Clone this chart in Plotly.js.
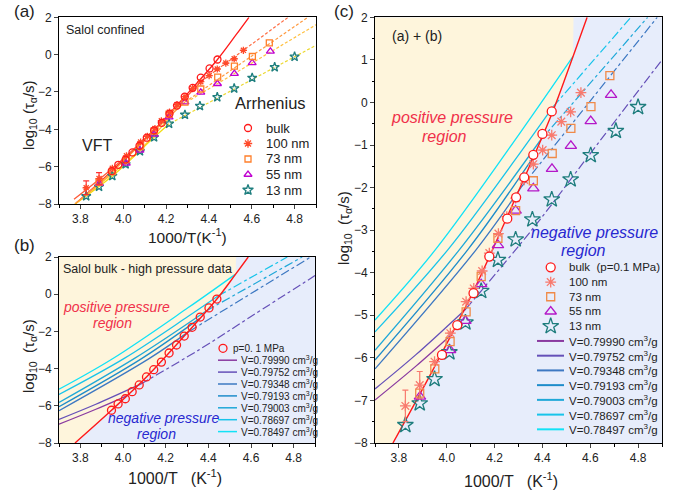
<!DOCTYPE html>
<html><head><meta charset="utf-8">
<script src="https://cdn.plot.ly/plotly-3.0.1.min.js"></script>
<style>html,body{margin:0;padding:0;background:#fff}#plot{width:677px;height:493px}</style>
</head><body><div id="plot"></div>
<script>
// ---------------- data ----------------
const bulkX = [3.946,3.977,4.011,4.043,4.076,4.110,4.144,4.180,4.216,4.251,4.287,4.324,4.362,4.403,4.440];
const bulkY = [-6.24,-5.90,-5.62,-5.24,-4.88,-4.45,-4.06,-3.65,-3.16,-2.73,-2.25,-1.78,-1.23,-0.74,-0.26];
const bulkCX = [3.980,4.044,4.112,4.178,4.253,4.290,4.324,4.362,4.400,4.439];
const bulkCY = [-5.93,-5.23,-4.48,-3.62,-2.73,-2.23,-1.76,-1.23,-0.74,-0.21];
const vftBulkX = [3.775,3.946,4.110,4.287,4.440,4.528,4.587];
const vftBulkY = [-8.0,-6.24,-4.45,-2.25,-0.26,1.08,2.0];

const nm100X = [3.827,3.887,3.949,4.015,4.081,4.113,4.148,4.178,4.216,4.251,4.288,4.324,4.362,4.401,4.439,4.479,4.518,4.561];
const nm100Y = [-7.13,-6.64,-6.09,-5.42,-4.68,-4.37,-3.96,-3.54,-3.08,-2.68,-2.25,-1.82,-1.45,-1.12,-0.77,-0.45,-0.22,0.23];
const nm100Err = [0.37,0.32,0,0,0,0,0,0,0,0,0,0,0,0,0,0,0,0];
const nm73X = [3.887,3.950,4.014,4.081,4.144,4.214,4.288,4.362,4.441,4.519,4.603,4.682];
const nm73Y = [-6.83,-6.26,-5.62,-4.92,-4.09,-3.19,-2.54,-1.84,-1.20,-0.61,-0.10,0.63];
const nm55X = [3.888,4.014,4.078,4.144,4.214,4.288,4.362,4.440,4.519,4.602,4.687];
const nm55Y = [-6.91,-5.82,-5.13,-4.27,-3.35,-2.54,-2.02,-1.56,-1.02,-0.44,0.18];
const nm13X = [3.827,3.887,3.949,4.011,4.078,4.144,4.214,4.288,4.358,4.439,4.518,4.602,4.707,4.800];
const nm13Y = [-7.58,-7.07,-6.50,-5.87,-5.17,-4.43,-3.70,-3.22,-2.75,-2.28,-1.81,-1.24,-0.67,-0.11];

// VFT (solid) and Arrhenius (dashed) fits, panel (a)
const vft100X = [3.770,3.950,4.150,4.362]; const vft100Y = [-7.75,-6.09,-3.96,-1.45];
const arr100X = [4.362,4.770]; const arr100Y = [-1.45,2.0];
const vft73X = [3.780,3.950,4.144,4.288]; const vft73Y = [-7.95,-6.26,-4.09,-2.54];
const arr73X = [4.288,4.862]; const arr73Y = [-2.54,2.0];
const vft55X = [3.775,3.888,4.078,4.214]; const vft55Y = [-8.0,-6.95,-5.10,-3.40];
const arr55X = [4.214,4.900]; const arr55Y = [-3.10,1.60];
const vft13X = [3.775,3.949,4.144,4.214]; const vft13Y = [-8.0,-6.50,-4.43,-3.70];
const arr13X = [4.200,4.900]; const arr13Y = [-3.80,0.50];

// isochores (solid: positive pressure, dash-dot: negative pressure)
const isoNames = ['V=0.79990 cm<sup>3</sup>/g','V=0.79752 cm<sup>3</sup>/g','V=0.79348 cm<sup>3</sup>/g','V=0.79193 cm<sup>3</sup>/g','V=0.79003 cm<sup>3</sup>/g','V=0.78697 cm<sup>3</sup>/g','V=0.78497 cm<sup>3</sup>/g'];
const isoSolidX = [[3.70,3.87,4.02],[3.70,3.87,4.08],[3.70,4.124,4.31],[3.70,4.089,4.36],[3.70,4.054,4.39],[3.70,4.006,4.306,4.445],[3.70,3.951,4.306,4.528]];
const isoSolidY = [[-6.99,-6.20,-5.45],[-6.73,-5.93,-4.85],[-6.26,-3.45,-2.00],[-6.05,-3.45,-1.30],[-5.82,-3.45,-0.90],[-5.39,-3.45,-1.19,-0.10],[-5.11,-3.47,-0.72,1.08]];
const isoDashX = [[],[4.08,4.362,4.60,4.90],[4.31,4.88],[],[4.39,4.84],[4.445,4.77],[]];
const isoDashY = [[],[-4.85,-2.95,-1.20,1.00],[-2.00,2.00],[],[-0.90,2.00],[-0.10,2.00],[]];

const xTicks = [3.8,4.0,4.2,4.4,4.6,4.8];
const xTickText = ['3.8','4.0','4.2','4.4','4.6','4.8'];

// ---------------- styles ----------------
const W=677,H=493;
const fx=v=>v/W, fy=v=>1-v/H;
const isoColors = ['#8a3aa0','#6550b8','#3d78c2','#1e8cca','#1fa8d8','#18c4ea','#12e2f6'];
const RED='#ff1a1a';
const FONT='Liberation Sans, Arial, sans-serif';
const traces=[];

function line(x,y,xa,ya,color,dash,width,shape){
  traces.push({x:x,y:y,xaxis:xa,yaxis:ya,mode:'lines',showlegend:false,hoverinfo:'skip',
    line:{color:color,width:width||1.3,dash:dash||'solid',shape:shape||'spline'}});
}
function pts(x,y,xa,ya,sym,color,size,err,errColor,fill){
  const t={x:x,y:y,xaxis:xa,yaxis:ya,mode:'markers',showlegend:false,hoverinfo:'skip',
    marker:{symbol:sym,color:fill||color,size:size,line:{color:color,width:1.3}}};
  if(err) t.error_y={type:'data',array:err,visible:true,color:errColor||color,thickness:1.2,width:3};
  traces.push(t);
}

// ---- backgrounds (yellow region bounded by p=0.1 MPa VFT) ----
['x2','x3'].forEach((xa,i)=>{
  const ya = i===0?'y2':'y3';
  const px=[3.7].concat(vftBulkX.slice(0,6)).concat([4.53,3.7]);
  const py=[-8].concat(vftBulkY.slice(0,6)).concat([2,2]);
  traces.push({x:px,y:py,xaxis:xa,yaxis:ya,mode:'lines',fill:'toself',fillcolor:'#fef5dc',
    line:{width:0,color:'rgba(0,0,0,0)'},showlegend:false,hoverinfo:'skip'});
});

// ---- panel (a) ----
const SD='3px,2px';
line(vftBulkX,vftBulkY,'x','y',RED,'solid',1.3);
line(vft13X,vft13Y,'x','y','#f2dc10','solid',1.3);
line(vft55X,vft55Y,'x','y','#ffc030','solid',1.3);
line(vft73X,vft73Y,'x','y','#ff9a40','solid',1.3);
line(vft100X,vft100Y,'x','y','#ff5a38','solid',1.3);
line(arr100X,arr100Y,'x','y','#ff6a40',SD,1.2,'linear');
line(arr73X,arr73Y,'x','y','#ff9a40',SD,1.2,'linear');
line(arr55X,arr55Y,'x','y','#ffc040',SD,1.2,'linear');
line(arr13X,arr13Y,'x','y','#ecd830',SD,1.2,'linear');
pts(nm13X,nm13Y,'x','y','star-open','#1f7f7f',7);
pts(nm55X,nm55Y,'x','y','triangle-up-open','#c000d0',7);
pts(nm73X,nm73Y,'x','y','square-open','#ff7f2a',6);
pts(nm100X,nm100Y,'x','y','asterisk-open','#ff4a2a',6,nm100Err,'#ff3030');
pts(bulkX,bulkY,'x','y','circle-open',RED,7);

// ---- panel (b) and (c) isochores ----
[['x2','y2'],['x3','y3']].forEach(ax=>{
  for(let i=0;i<7;i++){
    line(isoSolidX[i],isoSolidY[i],ax[0],ax[1],isoColors[i],'solid',1.3);
    if(isoDashX[i].length) line(isoDashX[i],isoDashY[i],ax[0],ax[1],isoColors[i],'dashdot',1.2);
  }
  line(vftBulkX,vftBulkY,ax[0],ax[1],RED,'solid',1.4);
});
pts(bulkX,bulkY,'x2','y2','circle-open',RED,8);

// ---- panel (c) data ----
pts(nm13X,nm13Y,'x3','y3','star-open','#1e7d7d',12);
pts(nm55X,nm55Y,'x3','y3','triangle-up-open','#b418c8',10);
pts(nm73X,nm73Y,'x3','y3','square-open','#f08a48',8);
pts(nm100X,nm100Y,'x3','y3','asterisk-open','#f87a6e',9,nm100Err,'#f87a6e');
pts(bulkCX,bulkCY,'x3','y3','circle',RED,9,null,null,'#ffffff');

// ---- manual legends (pixel overlay) ----
const shapes=[], ann=[];
function legMarker(x,y,sym,color,size,fill){
  traces.push({x:[x],y:[y],xaxis:'x4',yaxis:'y4',mode:'markers',showlegend:false,hoverinfo:'skip',
    marker:{symbol:sym,color:fill||color,size:size,line:{color:color,width:1.3}}});
}
function legLine(x0,x1,y,color,w){
  shapes.push({type:'line',xref:'paper',yref:'paper',x0:fx(x0),x1:fx(x1),y0:fy(y),y1:fy(y),line:{color:color,width:w||1.8}});
}
function txt(t,x,y,size,color,opts){
  ann.push(Object.assign({text:t,x:fx(x),y:fy(y),xref:'paper',yref:'paper',showarrow:false,
    xanchor:'center',yanchor:'middle',font:{family:FONT,size:size,color:color||'#222'}},opts||{}));
}
// legend (a)
const legA=[['bulk','circle-open',RED,7],['100 nm','asterisk-open','#ff4a2a',7],['73 nm','square-open','#ff7f2a',6],['55 nm','triangle-up-open','#c000d0',7],['13 nm','star-open','#1f7f7f',8]];
legA.forEach((r,i)=>{const y=128+15.5*i; legMarker(248,y,r[1],r[2],r[3]); txt(r[0],264,y,13,'#222',{xanchor:'left'});});
// legend (b)
legMarker(223,348.3,'circle-open',RED,8); txt('p=0. 1 MPa',231,348.3,10,'#222',{xanchor:'left'});
for(let i=0;i<7;i++){const y=360.2+11.9*i; legLine(218,237,y,isoColors[i],1.5); txt(isoNames[i],239,y,10,'#222',{xanchor:'left'});}
// legend (c)
const legC=[['bulk  (p=0.1 MPa)','circle',RED,9,'#ffffff'],['100 nm','asterisk-open','#f87a6e',9],['73 nm','square-open','#f08a48',8],['55 nm','triangle-up-open','#b418c8',10],['13 nm','star-open','#1e7d7d',12]];
legC.forEach((r,i)=>{const y=267.3+14.73*i; legMarker(550.7,y,r[1],r[2],r[3],r[4]); txt(r[0],566.7,y,11.5,'#222',{xanchor:'left'});});
for(let i=0;i<7;i++){const y=267.3+14.73*(5+i); legLine(537,564,y,isoColors[i],2); txt(isoNames[i],566.7,y,11.5,'#222',{xanchor:'left'});}

// blue backgrounds for (b) and (c)
shapes.push({type:'rect',xref:'x2 domain',yref:'y2 domain',x0:0,x1:1,y0:0,y1:1,fillcolor:'#e7edfb',line:{width:0},layer:'below'});
shapes.push({type:'rect',xref:'x3 domain',yref:'y3 domain',x0:0,x1:1,y0:0,y1:1,fillcolor:'#e7edfb',line:{width:0},layer:'below'});

// texts
txt('(a)',24,12,17); txt('(b)',24,245,17); txt('(c)',344,12,17);
txt('Salol confined',105,30,12.5);
txt('VFT',97,145,16); txt('Arrhenius',270,103,16.5);
txt('Salol bulk - high pressure data',147,269,12.5);
txt('<i>positive pressure</i>',117,307,14,'#f0304a'); txt('<i>region</i>',112,323,14,'#f0304a');
txt('<i>negative pressure</i>',164,418,14,'#2828d0'); txt('<i>region</i>',156,434,14,'#2828d0');
txt('(a) + (b)',417,36,14);
txt('<i>positive pressure</i>',452,118,16,'#f0304a'); txt('<i>region</i>',444,137,16,'#f0304a');
txt('<i>negative pressure</i>',594,232,16,'#2828d0'); txt('<i>region</i>',583,250,16,'#2828d0');
// axis titles
txt('1000/T(K<sup>-1</sup>)',187,236,15.5);
txt('1000/T   (K<sup>-1</sup>)',175,477,16);
txt('1000/T   (K<sup>-1</sup>)',511,480,16);
txt('log<sub>10</sub> (τ<sub>α</sub>/s)',30,115,15,'#222',{textangle:-90});
txt('log<sub>10</sub>  (τ<sub>α</sub>/s)',29,356,15,'#222',{textangle:-90});
txt('log<sub>10</sub>  (τ<sub>α</sub>/s)',344,228,15,'#222',{textangle:-90});

function xax(d,anchor){return {domain:d,range:[3.7,4.9],tickmode:'array',tickvals:xTicks,ticktext:xTickText,ticks:'outside',ticklen:4,tickwidth:1,
  showline:true,linecolor:'#000',linewidth:1,mirror:true,showgrid:false,zeroline:false,anchor:anchor,
  tickfont:{family:FONT,size:12,color:'#222'},minor:{dtick:0.1,tick0:3.7,ticks:'outside',ticklen:2.5,tickcolor:'#000'}};}
function yax(d,anchor,dt){const o={domain:d,range:[-8,2],dtick:dt,tick0:-8,ticks:'outside',ticklen:4,tickwidth:1,
  showline:true,linecolor:'#000',linewidth:1,mirror:true,showgrid:false,zeroline:false,anchor:anchor,
  tickfont:{family:FONT,size:12,color:'#222'}};
  if(dt===1) o.minor={dtick:0.5,ticks:'outside',ticklen:2.5,tickcolor:'#000'};
  return o;}

const layout={width:W,height:H,margin:{l:0,r:0,t:0,b:0},paper_bgcolor:'#fff',plot_bgcolor:'rgba(0,0,0,0)',showlegend:false,
  xaxis:xax([fx(59),fx(316)],'y'), yaxis:yax([fy(204),fy(17.3)],'x',2),
  xaxis2:xax([fx(59),fx(315)],'y2'), yaxis2:yax([fy(443),fy(257)],'x2',2),
  xaxis3:xax([fx(375),fx(662)],'y3'), yaxis3:yax([fy(443),fy(17.3)],'x3',1),
  xaxis4:{domain:[0,1],range:[0,W],visible:false,anchor:'y4',fixedrange:true},
  yaxis4:{domain:[0,1],range:[H,0],visible:false,anchor:'x4',fixedrange:true},
  shapes:shapes, annotations:ann, font:{family:FONT}};
Plotly.newPlot('plot',traces,layout,{staticPlot:true});
</script></body></html>
